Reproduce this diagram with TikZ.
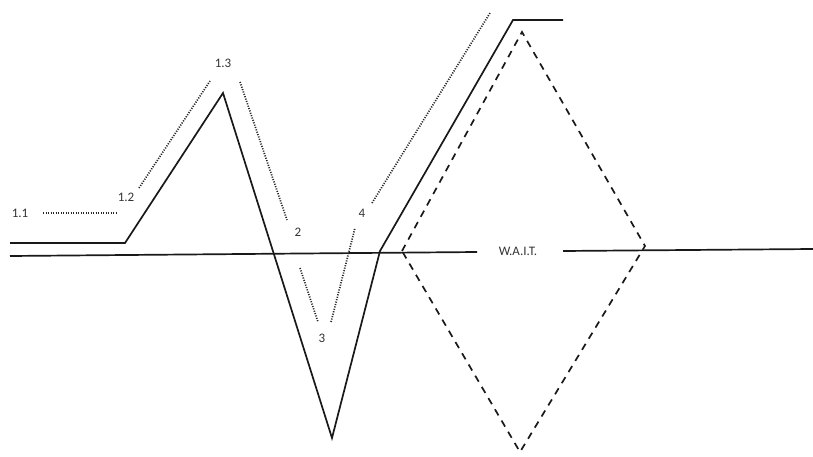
\documentclass[tikz,border=0pt]{standalone}
\usepackage{fontspec}
\setmainfont{Carlito}
\begin{document}
\begin{tikzpicture}[x=1pt,y=-1pt,
  solidline/.style={line width=1.7pt,black!90,line join=miter},
  dotline/.style={line width=1.7pt,black!85,dash pattern=on 1.1pt off 1.4pt},
  dashline/.style={line width=1.7pt,black!90,dash pattern=on 7pt off 6pt},
  lbl/.style={font=\fontsize{13}{15}\selectfont,text=black!80,inner sep=1pt}]
\useasboundingbox (0,0) rectangle (813,457);
% solid main path
\coordinate (s0) at (10,243);
\coordinate (s1) at (125,243);
\coordinate (s2) at (223,93);
\coordinate (s3) at (332,438);
\coordinate (s4) at (380,251);
\coordinate (s5) at (513,20);
\coordinate (s6) at (563,20);
\draw[solidline] (s0) -- (s1) -- (s2) -- (s3) -- (s4) -- (s5) -- (s6);
% horizontal baseline
\coordinate (h0) at (10,256);
\coordinate (h1) at (477,252);
\coordinate (h2) at (563,251);
\coordinate (h3) at (813,249);
\draw[solidline] (h0) -- (h1);
\draw[solidline] (h2) -- (h3);
\node[lbl] (wait) at (518,251) {W.A.I.T.};
% dashed diamond
\coordinate (dT) at (522,32);
\coordinate (dR) at (645,246);
\coordinate (dB) at (520,452);
\coordinate (dL) at (402,251);
\draw[dashline] (dL) -- (dT) -- (dR) -- (dB) -- cycle;
% dotted guides
\coordinate (a0) at (43,213);
\coordinate (a1) at (116,213);
\draw[dotline] (a0) -- (a1);
\coordinate (b0) at (139,188);
\coordinate (b1) at (210,81);
\draw[dotline] (b0) -- (b1);
\coordinate (c0) at (240,82);
\coordinate (c1) at (287,220);
\draw[dotline] (c0) -- (c1);
\coordinate (d0) at (300,268);
\coordinate (d1) at (318,322);
\draw[dotline] (d0) -- (d1);
\coordinate (e0) at (331,322);
\coordinate (e1) at (355,228);
\draw[dotline] (e0) -- (e1);
\coordinate (f0) at (372,203);
\coordinate (f1) at (490,13);
\draw[dotline] (f0) -- (f1);
% labels
\node[lbl] (l11) at (20,213) {1.1};
\node[lbl] (l12) at (126,197) {1.2};
\node[lbl] (l13) at (223,63) {1.3};
\node[lbl] (l2) at (298,232) {2};
\node[lbl] (l3) at (322,338) {3};
\node[lbl] (l4) at (362,213) {4};
\end{tikzpicture}
\end{document}
